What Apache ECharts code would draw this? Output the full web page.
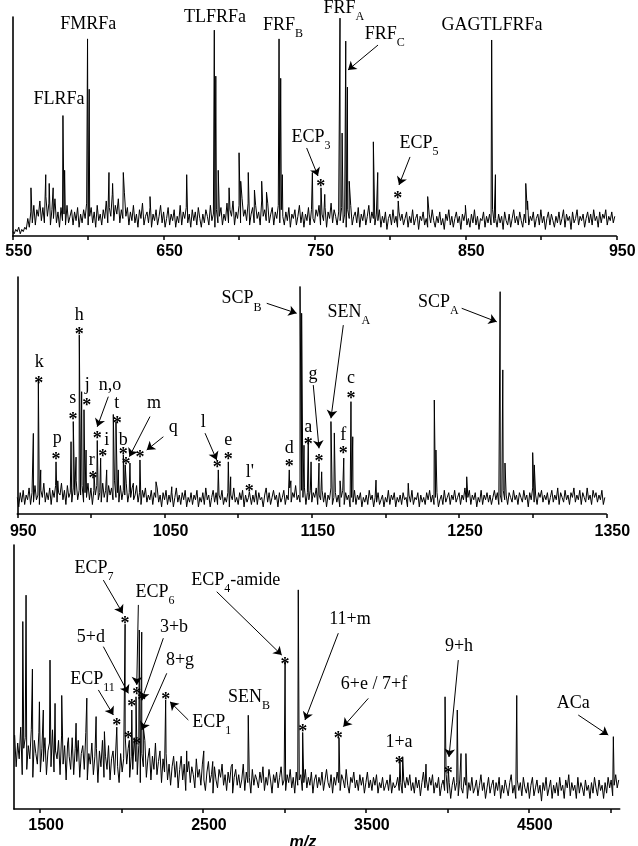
<!DOCTYPE html>
<html><head><meta charset="utf-8">
<script src="https://cdn.jsdelivr.net/npm/echarts@6/dist/echarts.min.js"></script>
<style>html,body{margin:0;padding:0;background:#fff}#c{width:638px;height:846px}</style>
</head><body><div id="c"></div>
<script>
// ---------------- Panel 1 (m/z 550-950) ----------------
const range1 = [550, 949];
const noise1 = [
2,1,3,2,4,1,3,2,4,3,8,4,11,6,14,5,12,9,16,7,
13,6,18,9,15,5,12,8,17,6,11,4,13,7,10,5,14,6,9,12,
5,11,7,13,4,10,6,12,8,15,5,9,13,6,11,4,14,7,10,5,
12,8,16,6,13,9,19,7,14,10,17,6,12,8,20,9,13,5,11,7,
14,6,10,4,12,8,15,5,9,11,6,13,4,10,7,12,5,9,14,6,
11,4,8,13,5,10,7,12,4,9,6,14,5,11,8,13,6,10,4,12,
7,11,5,13,8,4,10,6,12,9,5,14,7,10,4,12,6,9,13,5,
10,7,15,6,12,9,16,5,11,8,14,6,17,9,12,7,15,5,10,13,
6,14,8,11,5,16,9,12,7,15,6,10,13,5,11,8,14,6,12,9,
5,11,7,13,4,10,8,12,5,9,14,6,11,4,10,7,13,5,12,8,
6,12,9,14,5,10,7,13,4,11,8,15,6,12,9,5,11,7,13,6,
10,4,12,8,14,5,9,11,6,13,4,10,7,12,5,9,14,6,11,8,
5,10,7,12,4,9,6,11,3,8,10,5,12,6,9,4,11,7,10,5,
8,11,4,9,6,12,5,8,10,3,9,7,11,5,8,4,10,6,12,7,
4,9,6,11,5,8,3,10,7,12,5,9,4,8,11,6,9,3,10,7,
11,5,8,4,10,6,12,5,9,3,8,7,11,4,9,6,10,5,12,6,
8,4,10,6,9,3,11,7,5,10,4,8,12,6,9,5,11,7,4,10,
6,12,5,9,7,11,4,8,10,5,12,6,9,3,8,11,5,10,7,4,
9,6,11,5,8,12,4,10,7,9,3,11,6,8,12,5,9,7,10,4,
8,11,6,10,5,12,7,9,4,11,6,10,8,12,5,9,7,11,6,9];
const peaks1 = [
[562.1,22],[571.9,28],[574.2,24],[576.8,22],[583.3,55],[584.4,30],
[599.6,90],[600.7,67],[613.8,29],[616.2,24],[623.3,29],[641,18],[665.3,28],
[683.6,94],[684.6,73],[686.2,30],[693.4,22],[700,38],[701.1,25],[706.1,29],[710.2,21],[715,25],[718.2,20],
[726.5,90],[727.6,72],[728.7,28],[748.6,29],[754.3,22],[756.8,19],
[766.9,99.5],[768.3,47],[770.7,89],[771.8,68],[773,25],[789,43],[791.9,29],
[805.5,16],[825,18],[850,14],[867.4,89.5],[869.9,28],[890,24],[891.2,16]];
const ticks1 = [550,600,650,700,750,800,850,900,950];
const tickLabels1 = [550,650,750,850,950];
const labels1 = [
[600.0,95.4,'FMRFa'],[580.7,61.2,'FLRFa'],[684.1,98.6,'TLFRFa'],[729.1,95,'FRF_{B}'],
[769.5,100,'FRF_{A}',-6],[796.6,90.9,'FRF_{C}'],[867.6,95,'GAGTLFRFa'],
[747.7,43.8,'ECP_{3}'],[819.2,41.1,'ECP_{5}']];
const stars1 = [[754.1,24.2],[805.1,18.7]];
const arrows1 = [[792.1,87.2,772.2,75.8],[744.8,40.2,752.3,27.4],[813.3,36.1,806,23.3]];

// ---------------- Panel 2 (m/z 950-1350) ----------------
const range2 = [950, 1349];
const noise2 = [
7,3,9,5,10,4,8,6,11,4,9,5,12,6,8,4,10,7,13,5,
9,6,11,4,10,7,12,5,9,8,13,6,10,4,12,7,9,5,11,8,
14,6,10,8,12,5,9,7,13,6,11,4,10,8,12,6,9,5,13,7,
10,5,12,8,11,6,14,7,9,5,12,6,10,8,13,5,9,7,11,6,
8,12,5,9,4,10,7,11,5,8,6,10,4,9,7,11,5,8,3,9,
6,10,4,8,5,9,3,7,11,5,8,4,9,6,10,3,7,5,9,4,
8,6,10,3,7,5,9,4,11,6,8,3,7,10,5,9,4,8,6,10,
4,7,5,9,3,8,6,11,5,7,4,9,6,10,3,8,5,7,9,4,
8,5,10,4,9,6,7,3,8,11,5,9,4,7,10,6,8,3,9,5,
7,10,4,8,6,11,5,9,7,12,6,8,5,10,7,11,4,9,6,10,
5,9,7,11,4,8,6,10,5,9,3,8,6,11,4,7,9,5,8,3,
7,10,4,9,6,8,3,7,5,10,4,8,6,9,3,7,5,8,4,10,
6,8,3,7,5,9,4,6,8,3,7,5,10,4,8,6,9,3,7,5,
8,4,9,6,7,3,8,5,10,4,7,6,9,3,8,5,7,4,9,6,
10,5,8,4,7,9,3,6,8,4,10,5,7,9,4,8,6,10,5,7,
9,4,8,6,11,5,7,10,4,8,6,9,3,7,5,10,4,8,6,9,
5,8,4,7,10,6,9,4,8,5,10,6,8,4,9,7,5,10,6,8,
4,9,7,5,10,6,8,3,9,6,11,5,8,4,9,7,10,5,8,6,
9,4,7,10,5,8,6,11,4,9,7,5,10,6,8,4,9,7,11,5,
8,6,10,4,9,7,5,11,6,8,4,10,7,9,5,8,6,10,4,7];
const peaks2 = [
[960.9,34],[964.3,56.5],[965.9,18.6],[976.3,22],[977.5,14],[986.5,30.5],[988,39],[989.9,24],
[992.1,75.5],[993.7,51.6],[995.3,44],[996.7,27],[998.9,13],[1002.1,16.5],[1004.3,31],[1006.6,23.6],
[1010.7,18.6],[1015.2,42],[1017,39],[1018.6,18.6],[1022,25],[1023.3,20.7],[1026.5,21.5],[1028.8,13],
[1033.3,22.8],[1044.2,13.6],[1054.9,11.5],[1086.5,18.6],[1093.3,22],[1094.9,15.7],[1107.6,9.4],
[1134.7,18.6],[1135.8,14],[1142,96],[1143.1,84.7],[1144.7,29],[1147.6,32],[1149.5,22],[1154.9,21.5],[1156.7,17.8],
[1163,39],[1165.3,34.2],[1169.2,14],[1171.7,23.6],[1176.6,47.4],[1177.8,32.6],[1193.6,14.3],[1215.5,13],
[1233.2,48.1],[1234.3,27],[1255.2,15.7],[1277.9,93.8],[1279.7,60.8],[1281.2,21.5],[1300,25.9],[1301.1,20.7]];
const ticks2 = [950,1000,1050,1100,1150,1200,1250,1300,1350];
const tickLabels2 = [950,1050,1150,1250,1350];
const labels2 = [
[964.9,62.9,'k'],[977.2,30.5,'p'],[987.6,47.4,'s'],[992.1,82.7,'h'],[997.5,53.2,'j'],[1000.5,21.5,'r'],
[1013,53.2,'n,o'],[1010.7,29.8,'i'],[1017.5,45.3,'t'],[1022,29.8,'b'],[1042.8,45.3,'m'],[1055.9,35.4,'q'],
[1076.3,37.6,'l'],[1093.3,29.8,'e'],[1108,16.5,"l'"],[1134.7,26.3,'d'],[1102.3,89.6,'SCP_{B}'],
[1147.6,35.4,'a'],[1150.8,57.6,'g'],[1175.1,84,'SEN_{A}'],[1171.4,31.9,'f'],[1176.6,55.8,'c'],[1235.9,88.2,'SCP_{A}']];
const stars2 = [
[964.5,56.5],[976.3,24.2],[987.8,41.4],[992.1,76.9],[997.1,47],[1001.4,16.5],[1004.3,33.3],[1008,25.6],
[1017.9,39.7],[1022,26.3],[1023.8,22.1],[1033.3,25.2],[1085.8,21],[1093.3,24.2],[1107.6,10.8],[1134.7,21.4],
[1147.6,30.5],[1154.9,23.5],[1171.4,27],[1176.6,50.2]];
const arrows2 = [
[1011.8,49.5,1004.3,36.8],[1040.1,41.1,1026.1,24.2],[1049.2,32.6,1037.9,27],[1077.5,34.1,1085.4,22.8],
[1119.4,88.9,1139.7,84.7],[1151,54.4,1154.9,27.7],[1171.4,79.7,1163,40.4],[1251.8,86.8,1275.6,81.1]];

// ---------------- Panel 3 (m/z 1340-5058) ----------------
const range3 = [1344, 5052];
const noise3 = [
28,16,25,19,31,13,23,27,15,24,19,30,12,26,21,17,29,14,23,18,
27,13,22,25,16,30,14,22,19,26,13,28,17,24,11,25,20,15,27,13,
23,18,26,12,21,24,15,29,11,21,17,25,13,20,23,10,22,16,26,12,
20,15,24,11,19,22,13,25,16,10,21,14,19,28,17,23,12,20,15,27,
18,13,24,10,21,16,26,12,19,23,11,20,15,25,13,18,22,10,19,14,
21,11,17,9,16,20,12,18,8,15,20,11,17,7,14,18,10,16,13,8,
19,12,15,9,17,11,7,14,18,10,13,6,16,11,8,15,12,17,9,13,
7,14,10,16,6,12,15,9,13,8,11,17,7,14,10,12,6,15,9,13,
11,8,14,10,16,7,12,9,15,11,6,13,10,14,8,12,16,9,11,7,
13,10,15,8,12,6,14,9,11,13,7,10,15,8,12,9,14,6,11,13,
8,12,9,14,7,11,15,10,8,13,6,12,9,14,10,7,13,11,8,15,
9,6,12,10,14,8,11,7,13,9,12,6,10,14,8,11,7,12,9,13,
6,10,8,12,7,9,11,7,13,6,10,8,9,12,7,10,6,11,8,12,
9,13,7,10,6,12,8,11,5,10,14,8,11,7,12,9,13,6,10,8,
12,5,9,11,7,13,6,10,4,9,12,7,10,5,11,8,6,12,9,4,
10,7,12,6,8,11,5,9,13,7,10,4,8,12,6,9,11,5,10,7,
12,4,9,6,11,8,5,10,13,6,9,4,11,7,10,5,12,8,6,10,
4,9,12,5,8,11,6,9,3,10,7,12,5,8,11,4,9,6,10,5,
12,7,9,4,11,8,13,5,10,7,9,4,12,6,10,8,5,11,7,9,
4,10,6,12,8,5,11,7,9,4,10,6,12,8,11,5,9,13,8,11];
const peaks3 = [
[1394,71],[1414,81],[1453,53],[1496,40.6],[1520,37.5],[1561,56.4],[1592,40],[1633,43],[1674,27],[1721,32.5],
[1787,42],[1844,35],[1895,29.3],[1971,31],[2022,70],[2048,26],[2063,37.5],[2089,42.5],[2109,67.8],[2124,67],[2134,31],
[2271,41.3],[2400,22],[2505,22],[2560,18],[2680,17],[2778,35.5],[3004,55.8],[3085,83],[3112,29],[3335,27],
[3709,18.6],[3726,19.8],[3869,17],[3986,42.5],[4006,15],[4061,37.5],[4084,21],[4114,21],[4426,43],[5019,27.4]];
const ticks3 = [1500,2000,2500,3000,3500,4000,4500,5000];
const tickLabels3 = [1500,2500,3500,4500];
const labels3 = [
[1831.4,90.2,'ECP_{7}'],[2205.8,81.1,'ECP_{6}'],[2322.4,67.8,'3+b'],[1811.8,64,'5+d'],[2359.2,55.2,'8+g'],
[1822.2,48.1,'ECP_{11}'],[2553.8,31.8,'ECP_{1}'],[2782.7,41.3,'SEN_{B}'],[2701.7,85.6,'ECP_{4}-amide'],
[3402.5,70.9,'11+m'],[3549.8,46.3,'6+e / 7+f'],[3703.3,24.2,'1+a'],[4071.5,60.5,'9+h'],[4773,38.8,'ACa']];
const stars3 = [
[2021.6,71.6],[2093.5,44.4],[2062.8,40],[1970.7,32.7],[2041.9,28],[2093.5,25.5],[2124.1,42.4],
[2271.4,42.5],[3003.6,55.8],[3112.2,30.6],[3330.7,28],[3705.1,18.3],[4005.8,14.8]];
const arrows3 = [
[1888.5,86.7,2007.5,74.1],[2103.3,77.3,2093.5,47],[2256.7,64.7,2124.1,41.3],[1888.5,61.5,2041.9,43.8],
[2277.6,51.4,2124.1,29.9],[1857.8,45.1,1949.9,35.6],[2410.1,33.7,2297.8,40.6],[2584.4,82.3,2983.4,58.3],
[3330.7,66.6,3126.3,33.7],[3514.8,41.9,3361.4,31.2],[4067.2,56.4,4010.1,19.7],[4803.6,35.6,4987.7,28]];

// ---------------- build ----------------
const SERIF = "'Liberation Serif','Times New Roman',serif";
const SANS = "'Liberation Sans',Arial,Helvetica,sans-serif";

function trace(noise, range, peaks) {
  const step = (range[1] - range[0]) / (noise.length - 1);
  const pts = noise.map((v, i) => [range[0] + i * step, v]);
  return pts.concat(peaks).sort((a, b) => a[0] - b[0]);
}
function markup(t) {
  let s = '{m|' + t.replace(/_\{([^}]*)\}/g, '}{s|$1}{m|') + '}';
  return s.replace(/\{m\|\}/g, '');
}
const rich = {
  m: {fontFamily: SERIF, fontSize: 18, color: '#000', lineHeight: 24, verticalAlign: 'top'},
  s: {fontFamily: SERIF, fontSize: 12, color: '#000', lineHeight: 12, verticalAlign: 'bottom'},
  a: {fontFamily: SERIF, fontSize: 18, fontWeight: 'bold', color: '#000', lineHeight: 18}
};
function marks(labels, stars) {
  const d = labels.map(l => ({name: markup(l[2]), coord: [l[0], l[1]],
    label: {offset: [0, l[3] || 0]}}));
  stars.forEach(s => d.push({name: '{a|*}', coord: [s[0], s[1]], label: {offset: [0, 4]}}));
  return d;
}
function series(i, noise, range, peaks, labels, stars, arrows) {
  return {
    type: 'line', xAxisIndex: i, yAxisIndex: i, data: trace(noise, range, peaks),
    symbol: 'none', showSymbol: false, clip: false, silent: true,
    lineStyle: {color: '#000', width: 1},
    markPoint: {
      symbol: 'rect', symbolSize: 1, silent: true,
      itemStyle: {color: 'rgba(0,0,0,0)'},
      label: {show: true, position: 'inside', color: '#000', formatter: p => p.name, rich: rich},
      data: marks(labels, stars)
    },
    markLine: {
      symbol: ['none', 'arrow'], symbolSize: 8, silent: true,
      label: {show: false},
      lineStyle: {color: '#000', width: 1, type: 'solid'},
      emphasis: {disabled: true},
      data: arrows.map(a => [{coord: [a[0], a[1]]}, {coord: [a[2], a[3]]}])
    }
  };
}
function xAxis(i, min, max, ticks, tl, margin, extra) {
  return Object.assign({
    type: 'value', gridIndex: i, min: min, max: max,
    axisLine: {show: true, onZero: false, lineStyle: {color: '#000', width: 1.6}},
    axisTick: {show: true, length: 4, customValues: ticks, lineStyle: {color: '#000', width: 1.5}},
    axisLabel: {show: true, customValues: tl, margin: margin, color: '#000', fontFamily: SANS,
      fontWeight: 'bold', fontSize: 16, padding: [0, 0, 0, 12], formatter: v => String(v)},
    splitLine: {show: false}
  }, extra || {});
}
function yAxis(i) {
  return {type: 'value', gridIndex: i, min: 0, max: 100,
    axisLine: {show: true, lineStyle: {color: '#000', width: 1.6}},
    axisTick: {show: false}, axisLabel: {show: false}, splitLine: {show: false}};
}

const chart = echarts.init(document.getElementById('c'), null, {renderer: 'canvas'});
chart.setOption({
  animation: false,
  backgroundColor: '#fff',
  grid: [
    {left: 12.7, right: 21.7, top: 17, height: 219, outerBoundsMode: 'none', containLabel: false},
    {left: 17.3, right: 31.7, top: 277, height: 237, outerBoundsMode: 'none', containLabel: false},
    {left: 14, right: 18.3, top: 545, height: 264, outerBoundsMode: 'none', containLabel: false}
  ],
  xAxis: [
    xAxis(0, 550, 950, ticks1, tickLabels1, 8),
    xAxis(1, 950, 1350, ticks2, tickLabels2, 10),
    xAxis(2, 1340, 5058, ticks3, tickLabels3, 9, {
      name: 'm/z', nameLocation: 'middle', nameGap: 21,
      nameTextStyle: {fontFamily: SANS, fontStyle: 'italic', fontWeight: 'bold', fontSize: 16,
        color: '#000', padding: [0, 28, 0, 0]}
    })
  ],
  yAxis: [yAxis(0), yAxis(1), yAxis(2)],
  series: [
    series(0, noise1, range1, peaks1, labels1, stars1, arrows1),
    series(1, noise2, range2, peaks2, labels2, stars2, arrows2),
    series(2, noise3, range3, peaks3, labels3, stars3, arrows3)
  ]
});
</script>
</body></html>
